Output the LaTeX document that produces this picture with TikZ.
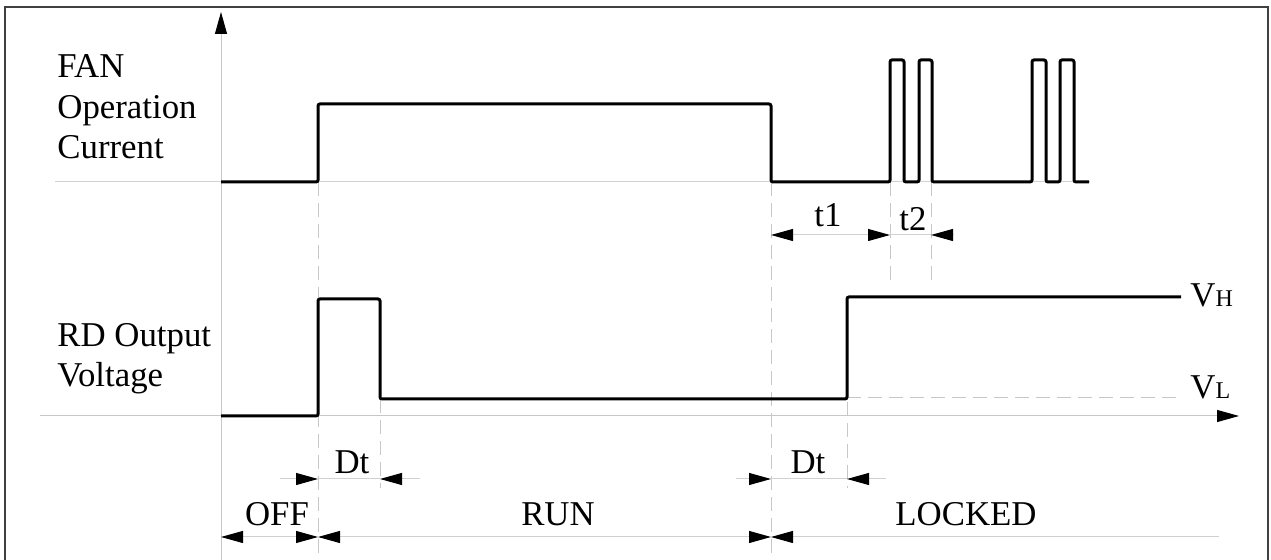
\documentclass[tikz,border=0pt]{standalone}
\usepackage{fontspec}
\setmainfont{Liberation Serif}
\usetikzlibrary{arrows.meta, positioning, calc}
\newcommand{\lowidx}[1]{{\fontsize{12}{12}\selectfont #1}}

\begin{document}
\begin{tikzpicture}[
        x=0.5pt, y=-0.5pt,
        wave/.style={line width=1.5pt, black, rounded corners=1pt},
        guide/.style={line width=0.5pt, black!18},
        vdash/.style={line width=0.5pt, black!22, dash pattern=on 7pt off 3.5pt},
        dim/.style={line width=0.5pt, black!18, >={Triangle[length=11pt, width=6pt, color=black]}},
        axis/.style={line width=0.5pt, black!22, -{Triangle[length=11pt, width=6pt, color=black]}},
        lbl/.style={font=\fontsize{17.4}{20}\selectfont, inner sep=0pt}
    ]
    \useasboundingbox (0,0) rectangle (1271,560);

    % frame
    \draw[line width=1pt, black!75] (5,560) -- (5,7) -- (1268,7) -- (1268,560);

    % axes and base lines
    \coordinate (ybot) at (221,560);
    \coordinate (ytop) at (221,12);
    \draw[axis] (ybot) -- (ytop);
    \coordinate (fanL) at (55,182);
    \coordinate (fanR) at (1090,182);
    \draw[guide] (fanL) -- (fanR);
    \coordinate (rdL) at (40,416);
    \coordinate (rdR) at (1239,416);
    \draw[axis] (rdL) -- (rdR);

    % signal names
    \node[lbl, anchor=base west] (fan) at (57,78) {FAN};
    \node[lbl, anchor=base west] (oper) at (57,119) {Operation};
    \node[lbl, anchor=base west] (curr) at (57,159) {Current};
    \node[lbl, anchor=base west] (rdout) at (57,347) {RD Output};
    \node[lbl, anchor=base west] (volt) at (57,387) {Voltage};

    % dashed time marks
    \draw[vdash] (318,182) -- (318,560);
    \draw[vdash] (380,399) -- (380,488);
    \draw[vdash] (771,182) -- (771,560);
    \draw[vdash] (847,297) -- (847,488);
    \draw[vdash] (890,182) -- (890,285);
    \draw[vdash] (931,182) -- (931,285);
    \draw[vdash] (847,398) -- (1181,398);

    % waveforms
    \draw[wave] (221,182) -| (318,104) -| (771,182) -| (890,60) -| (904,182)
        -| (919,60) -| (932,182) -| (1032,60) -| (1046,182) -| (1060,60)
        -| (1074,182) -- (1089,182);
    \draw[wave] (221,416) -| (318,299) -| (380,399) -| (847,297) -- (1181,297);

    \node[lbl, anchor=base west] (vh) at (1190,307) {V\lowidx{H}};
    \node[lbl, anchor=base west] (vl) at (1190,399) {V\lowidx{L}};

    % t1 / t2
    \coordinate (t1a) at (771,235);
    \coordinate (t1b) at (890,235);
    \coordinate (t2b) at (931,235);
    \coordinate (t2c) at (953,235);
    \draw[dim, <->] (t1a) -- (t1b);
    \draw[dim] (t1b) -- (t2b);
    \draw[dim, ->] (t2c) -- (t2b);
    \node[lbl] (t1) at (828,215) {t1};
    \node[lbl] (t2) at (913,219) {t2};

    % delay times
    \coordinate (dA0) at (280,479);
    \coordinate (dA1) at (318,479);
    \coordinate (dA2) at (380,479);
    \coordinate (dA3) at (420,479);
    \draw[dim, ->] (dA0) -- (dA1);
    \draw[dim] (dA1) -- (dA2);
    \draw[dim, ->] (dA3) -- (dA2);
    \node[lbl] (dtA) at (352,462) {Dt};

    \coordinate (dB0) at (736,479);
    \coordinate (dB1) at (771,479);
    \coordinate (dB2) at (847,479);
    \coordinate (dB3) at (886,479);
    \draw[dim, ->] (dB0) -- (dB1);
    \draw[dim] (dB1) -- (dB2);
    \draw[dim, ->] (dB3) -- (dB2);
    \node[lbl] (dtB) at (808,462) {Dt};

    % states
    \coordinate (ph0) at (221,537);
    \coordinate (ph1) at (318,537);
    \coordinate (ph2) at (771,537);
    \coordinate (ph3) at (1219,537);
    \draw[dim, <->] (ph0) -- (ph1);
    \draw[dim, <->] (ph1) -- (ph2);
    \draw[dim, <-] (ph2) -- (ph3);
    \node[lbl] (off) at (277,514) {OFF};
    \node[lbl] (run) at (558,514) {RUN};
    \node[lbl] (lock) at (966,514) {LOCKED};

\end{tikzpicture}
\end{document}
